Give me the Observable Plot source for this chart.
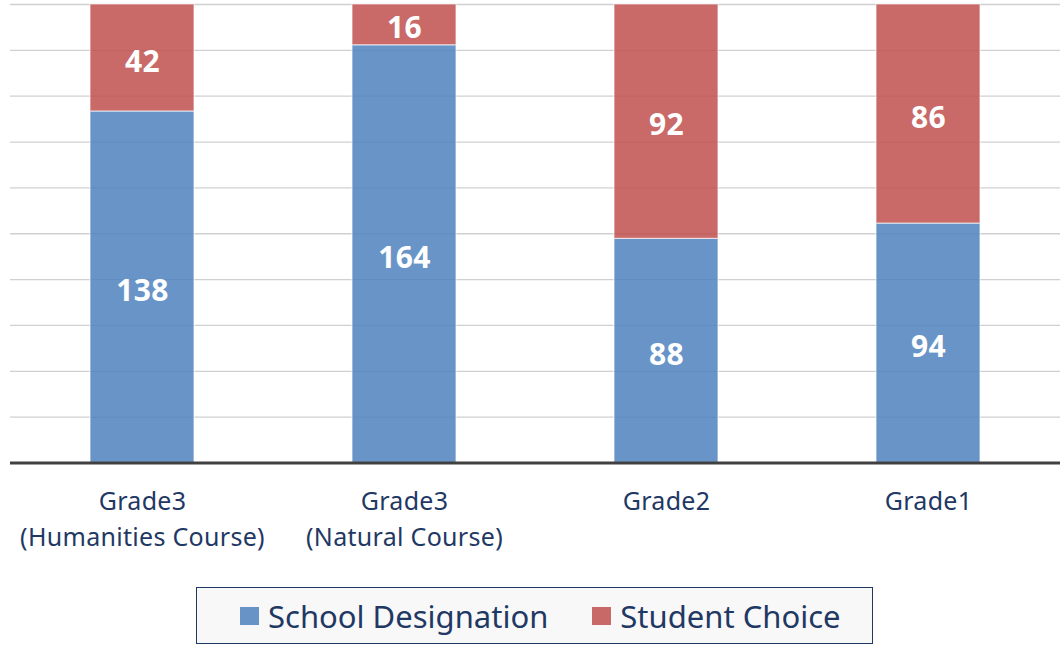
<!DOCTYPE html>
<html>
<head>
<meta charset="utf-8">
<script src="https://cdn.jsdelivr.net/npm/d3@7"></script>
<script src="https://cdn.jsdelivr.net/npm/@observablehq/plot@0.6"></script>
<style>
  html, body { margin: 0; padding: 0; background: #fff; }
  #wrap { position: relative; width: 1061px; height: 645px; font-family: "Noto Sans", "Open Sans", sans-serif; }
  #legend { position: absolute; left: 196px; top: 587px; width: 677px; height: 57px; border: 1.5px solid #1f3864;
    background: #f8f8f8; display: flex; align-items: center; justify-content: flex-start; padding-left: 43px; box-sizing: border-box;
    font-size: 31px; color: #1f3864; white-space: nowrap; }
  .item { display: flex; align-items: center; gap: 9px; margin-right: 44px; flex: none; white-space: nowrap; }
  .sw { width: 19px; height: 18px; display: inline-block; flex: none; }
  #chart svg text { letter-spacing: 0.3px; }
</style>
</head>
<body>
<div id="wrap"><div id="chart"></div><div id="legend"></div></div>
<script>
const categories = ["Grade3\n(Humanities Course)", "Grade3\n(Natural Course)", "Grade2", "Grade1"];
const seriesNames = ["School Designation", "Student Choice"];
const schoolDesignation = [138, 164, 88, 94];
const studentChoice = [42, 16, 92, 86];
const colors = ["#4f81bd", "#c0504d"];
const gridTicks = [18, 36, 54, 72, 90, 108, 126, 144, 162, 180];

const data = [];
categories.forEach((c, i) => {
  data.push({category: c, series: seriesNames[0], value: schoolDesignation[i]});
  data.push({category: c, series: seriesNames[1], value: studentChoice[i]});
});

const chart = Plot.plot({
  width: 1061,
  height: 580,
  marginLeft: 10,
  marginRight: 1,
  marginTop: 4,
  marginBottom: 117.5,
  style: {fontFamily: "'Noto Sans', 'Open Sans', sans-serif", background: "transparent"},
  x: {domain: categories, paddingInner: 0.604, paddingOuter: 0.302, label: null},
  y: {domain: [0, 180], label: null},
  color: {domain: seriesNames, range: colors},
  marks: [
    Plot.ruleY(gridTicks, {stroke: "#d0d0d0", strokeWidth: 1.3}),
    Plot.barY(data, Plot.stackY({x: "category", y: "value", fill: "series", order: seriesNames, fillOpacity: 0.85, stroke: "white", strokeOpacity: 0.6, strokeWidth: 1.2})),
    Plot.text(data, Plot.stackY({x: "category", y: "value", z: "series", order: seriesNames, text: d => String(d.value), fill: "white", fontSize: 30, fontWeight: "bold", dy: 4})),
    Plot.ruleY([0], {stroke: "#404040", strokeWidth: 3}),
    Plot.axisX({tickSize: 0, tickPadding: 21, fontSize: 25, lineHeight: 1.44, fill: "#1f3864", tickFormat: d => d}),
    Plot.axisY({ticks: [], label: null})
  ]
});
document.getElementById("chart").appendChild(chart);

const legend = document.getElementById("legend");
seriesNames.forEach((s, i) => {
  const item = document.createElement("div");
  item.className = "item";
  const sw = document.createElement("span");
  sw.className = "sw";
  sw.style.background = colors[i];
  sw.style.opacity = 0.85;
  const t = document.createElement("span");
  t.textContent = s;
  item.appendChild(sw); item.appendChild(t);
  legend.appendChild(item);
});
</script>
</body>
</html>
